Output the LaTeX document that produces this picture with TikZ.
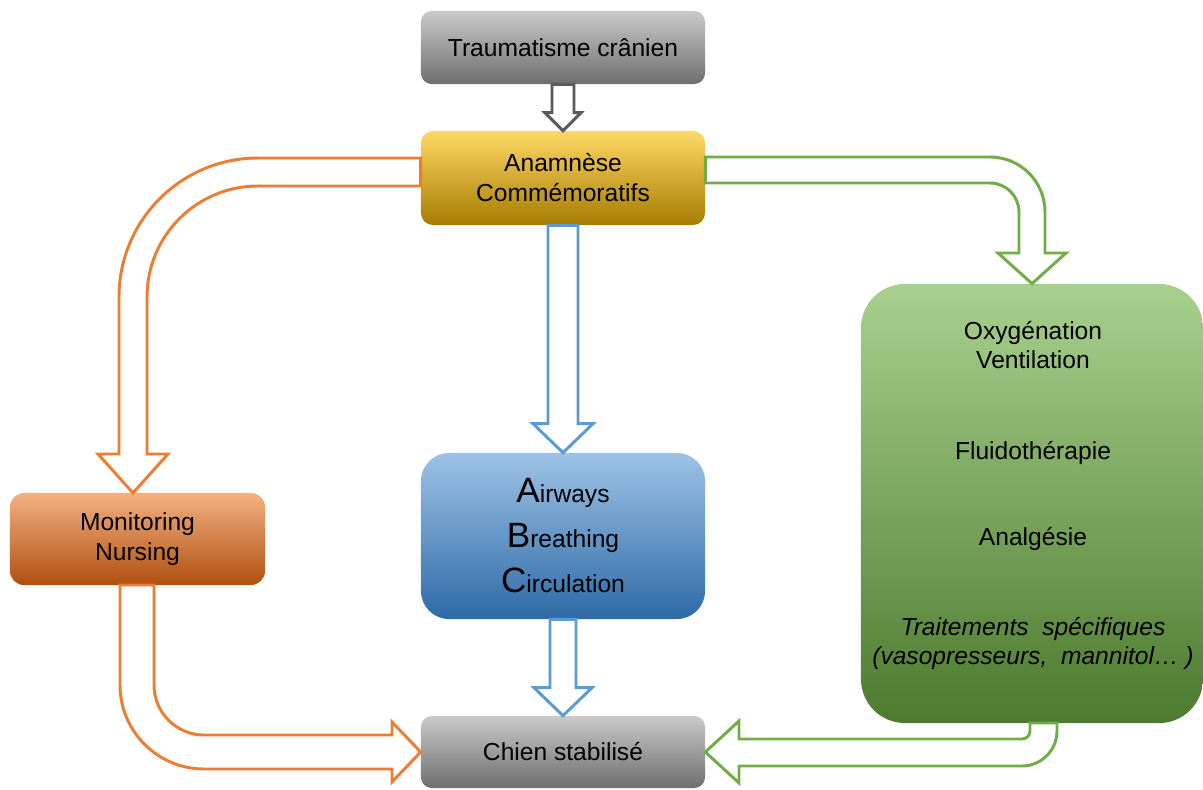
\documentclass[tikz,border=0pt]{standalone}
\usepackage{fontspec}
\setmainfont{Liberation Sans}
\usetikzlibrary{calc}

\definecolor{greytop}{HTML}{CACACA}
\definecolor{greybot}{HTML}{6E6E6E}
\definecolor{yellowtop}{HTML}{FFD966}
\definecolor{yellowmid}{HTML}{FFC000}
\definecolor{yellowbot}{HTML}{A67C00}
\definecolor{bluetop}{HTML}{9DC3E6}
\definecolor{bluemid}{HTML}{5B9BD5}
\definecolor{bluebot}{HTML}{2E6AA6}
\definecolor{orangetop}{HTML}{F4B183}
\definecolor{orangemid}{HTML}{ED7D31}
\definecolor{orangebot}{HTML}{B0500F}
\definecolor{greentop}{HTML}{A9D18E}
\definecolor{greenmid}{HTML}{70AD47}
\definecolor{greenbot}{HTML}{4C7A2E}
\definecolor{greyline}{HTML}{5A5A5A}

\newcommand{\capfirst}[1]{{\fontsize{25}{32}\selectfont #1}}

\begin{document}
\begin{tikzpicture}[x=0.025cm, y=-0.025cm,
  box/.style={rectangle, inner sep=0pt, align=center,
    font=\fontsize{17.5}{21.3}\selectfont},
  greybox/.style={box, rounded corners=0.27cm, top color=greytop, bottom color=greybot},
  yellowbox/.style={box, rounded corners=0.3cm, top color=yellowtop, middle color=yellowmid, bottom color=yellowbot},
  bluebox/.style={box, rounded corners=0.7cm, top color=bluetop, middle color=bluemid, bottom color=bluebot},
  orangebox/.style={box, rounded corners=0.35cm, top color=orangetop, middle color=orangemid, bottom color=orangebot},
  greenbox/.style={box, rounded corners=1.1cm, top color=greentop, middle color=greenmid, bottom color=greenbot},
  hollow/.style={line width=2.1pt, fill=white, line join=miter},
  down arrow/.style n args={3}{to path={
    ($(\tikztostart)+(-#1,0)$) -- ($(\tikztotarget)+(-#1,-#3)$)
    -- ($(\tikztotarget)+(-#2,-#3)$) -- (\tikztotarget)
    -- ($(\tikztotarget)+(#2,-#3)$) -- ($(\tikztotarget)+(#1,-#3)$)
    -- ($(\tikztostart)+(#1,0)$) -- cycle}}
]
\useasboundingbox (0,0) rectangle (1203,789);

% boxes
\node[greybox, minimum width=7.1cm, minimum height=1.825cm] (trauma) at (563,47.5) {Traumatisme crânien};
\node[yellowbox, minimum width=7.1cm, minimum height=2.35cm] (anam) at (563,178) {Anamnèse\\Commémoratifs};
\node[bluebox, minimum width=7.1cm, minimum height=4.15cm, font=\fontsize{17.5}{32}\selectfont] (abc) at (563,536)
  {\capfirst{A}irways\\\capfirst{B}reathing\\\capfirst{C}irculation};
\node[orangebox, minimum width=6.375cm, minimum height=2.3cm] (monit) at (137.5,539) {Monitoring\\Nursing};
\node[greenbox, minimum width=8.55cm, minimum height=10.975cm] (treat) at (1032,503.5) {};
\node[box] (treattxt) at (1033,495.5) {Oxygénation\\Ventilation\\[43.4pt]Fluidothérapie\\[39.2pt]Analgésie\\[42.7pt]
  \itshape Traitements\ \ spécifiques\\\itshape(vasopresseurs,\ \ mannitol…\ )};
\node[greybox, minimum width=7.1cm, minimum height=1.8cm] (chien) at (563,752) {Chien stabilisé};

% straight arrows
\draw[hollow, draw=greyline] (trauma.south) to[down arrow={11}{18}{18}] (anam.north);
\draw[hollow, draw=bluemid] (anam.south) to[down arrow={15}{30}{29}] (abc.north);
\draw[hollow, draw=bluemid] (abc.south) to[down arrow={13}{29}{28}] (chien.north);

% bent arrows
\draw[hollow, draw=orangemid] (anam.west |- 0,158) -- (258,158) .. controls (181.2,158) and (119,220.2) .. (119,297)
  -- (119,454) -- (98,454) -- (133,493) -- (168,454) -- (147,454) -- (147,297)
  .. controls (147,235.7) and (196.7,186) .. (258,186) -- (anam.west |- 0,186) -- cycle;
\draw[hollow, draw=orangemid] (120,585) -- (120,685) .. controls (120,731.4) and (157.6,769) .. (204,769)
  -- (392,769) -- (392,782) -- (chien.west) -- (392,722) -- (392,735) -- (204,735)
  .. controls (176.4,735) and (154,712.6) .. (154,685) -- (154,585) -- cycle;
\draw[hollow, draw=greenmid] (anam.east |- 0,157) -- (990,157) .. controls (1020.4,157) and (1045,181.6) .. (1045,212)
  -- (1045,253) -- (1066,253) -- (treat.north) -- (998,253) -- (1019,253) -- (1019,212)
  .. controls (1019,196) and (1006,183) .. (990,183) -- (anam.east |- 0,183) -- cycle;
\draw[hollow, draw=greenmid] (1057,723) -- (1057,731) .. controls (1057,750.3) and (1041.3,766) .. (1022,766)
  -- (739,766) -- (739,783) -- (chien.east) -- (739,721) -- (739,739) -- (1022,739)
  .. controls (1026.4,739) and (1030,735.4) .. (1030,731) -- (1030,723) -- cycle;
\end{tikzpicture}
\end{document}
